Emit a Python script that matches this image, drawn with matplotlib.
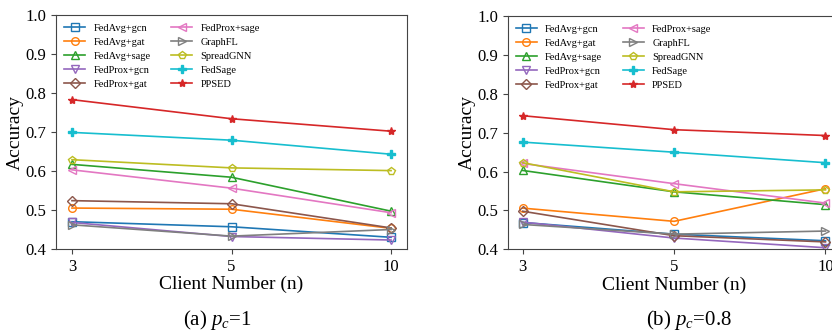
import matplotlib
matplotlib.use("Agg")
import matplotlib.pyplot as plt

plt.rcParams['font.family'] = ['Liberation Serif', 'DejaVu Serif']
plt.rcParams['mathtext.fontset'] = 'custom'
plt.rcParams['mathtext.rm'] = 'Liberation Serif'
plt.rcParams['mathtext.it'] = 'Liberation Serif:italic'

clients = ['3', '5', '10']
methods = ['FedAvg+gcn', 'FedAvg+gat', 'FedAvg+sage', 'FedProx+gcn', 'FedProx+gat',
           'FedProx+sage', 'GraphFL', 'SpreadGNN', 'FedSage', 'PPSED']
colors = ['#1f77b4', '#ff7f0e', '#2ca02c', '#9467bd', '#8c564b',
          '#e377c2', '#7f7f7f', '#bcbd22', '#17becf', '#d62728']
markers = ['s', 'o', '^', 'v', 'D', '<', '>', 'p', 'P', '*']

acc_pc1 = {
    'FedAvg+gcn':   [0.470, 0.457, 0.430],
    'FedAvg+gat':   [0.505, 0.502, 0.453],
    'FedAvg+sage':  [0.617, 0.584, 0.497],
    'FedProx+gcn':  [0.468, 0.432, 0.423],
    'FedProx+gat':  [0.524, 0.516, 0.454],
    'FedProx+sage': [0.603, 0.556, 0.493],
    'GraphFL':      [0.462, 0.433, 0.450],
    'SpreadGNN':    [0.629, 0.608, 0.601],
    'FedSage':      [0.699, 0.679, 0.643],
    'PPSED':        [0.783, 0.734, 0.702],
}
acc_pc08 = {
    'FedAvg+gcn':   [0.469, 0.439, 0.422],
    'FedAvg+gat':   [0.506, 0.472, 0.556],
    'FedAvg+sage':  [0.603, 0.548, 0.515],
    'FedProx+gcn':  [0.470, 0.429, 0.404],
    'FedProx+gat':  [0.498, 0.435, 0.419],
    'FedProx+sage': [0.621, 0.569, 0.519],
    'GraphFL':      [0.464, 0.439, 0.447],
    'SpreadGNN':    [0.623, 0.548, 0.553],
    'FedSage':      [0.676, 0.650, 0.623],
    'PPSED':        [0.744, 0.708, 0.693],
}
captions = ['(a) $p_c$=1', '(b) $p_c$=0.8']

fig = plt.figure(figsize=(8.32, 3.32), dpi=100)
ax1 = fig.add_axes([56/832, 1-249/332, 351/832, 234/332])
ax2 = fig.add_axes([507.6/832, 1-249.3/332, 333/832, 233/332])

xs = list(range(len(clients)))
for ax, data, cap, capx in [(ax1, acc_pc1, captions[0], 217/832), (ax2, acc_pc08, captions[1], 689/832)]:
    for m, c, mk in zip(methods, colors, markers):
        filled = mk in ('P', '*')
        ax.plot(xs, data[m], color=c, marker=mk, markersize=5.5 if mk != '*' else 6,
                markerfacecolor=c if filled else 'none', markeredgecolor=c,
                markeredgewidth=1.0, linewidth=1.2, label=m)
    ax.set_xlim(-0.1, 2.1)
    ax.set_ylim(0.4, 1.0)
    ax.set_xticks(xs)
    ax.set_xticklabels(clients)
    ax.set_yticks([0.4, 0.5, 0.6, 0.7, 0.8, 0.9, 1.0])
    ax.tick_params(labelsize=12, length=3.5, width=0.8, color='#444444')
    for s in ax.spines.values():
        s.set_color('#444444')
    ax.set_xlabel('Client Number (n)', fontsize=14, labelpad=1)
    ax.set_ylabel('Accuracy', fontsize=14, labelpad=1)
    ax.legend(ncol=2, loc='upper left', frameon=False, fontsize=7.5,
              labelspacing=0.45, handlelength=2.0, columnspacing=2.0,
              borderaxespad=0.4)
    fig.text(capx, 1-320/332, cap, fontsize=15, ha='center', va='center')

fig.savefig('out.png', dpi=100)
